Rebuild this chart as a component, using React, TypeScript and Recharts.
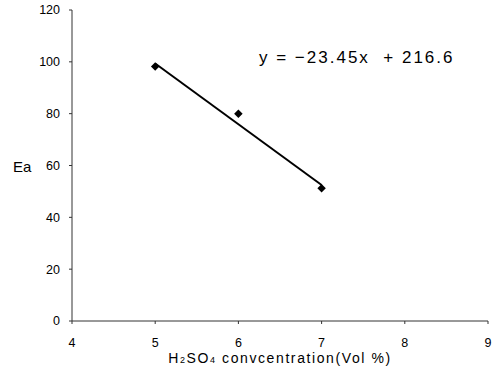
import { ScatterChart, Scatter, XAxis, YAxis } from "recharts";

// measured points
const concentration = [5, 6, 7];
const activationEnergy = [98.2, 80, 51.2];

// linear fit end points (y = -23.45x + 216.6)
const fitX = [5, 7];
const fitY = [99.35, 52.45];

const xTicks = [4, 5, 6, 7, 8, 9];
const yTicks = [0, 20, 40, 60, 80, 100, 120];

const points = concentration.map((x, i) => ({ x, y: activationEnergy[i] }));
const fit = fitX.map((x, i) => ({ x, y: fitY[i] }));

const font = "'Liberation Sans', Arial, sans-serif";

const XTitle = (props: any) => {
  const vb = props.viewBox;
  const cx = vb.x + vb.width / 2;
  const y = vb.y + vb.height - 7;
  return (
    <text x={cx} y={y} textAnchor="middle" fontSize={14} letterSpacing={1.6} fontFamily={font} fill="#000">
      H<tspan fontSize={9}>2</tspan>SO<tspan fontSize={9}>4</tspan> convcentration(Vol %)
    </text>
  );
};

const YTitle = (props: any) => {
  const vb = props.viewBox;
  return (
    <text x={13} y={vb.y + vb.height / 2 + 6} fontSize={15} fontFamily={font} fill="#000">
      Ea
    </text>
  );
};

const Dot = (props: any) => {
  const { cx, cy } = props;
  return <rect x={cx - 3} y={cy - 3} width={6} height={6} fill="#000" transform={`rotate(45 ${cx} ${cy})`} />;
};

export default function App() {
  return (
    <div style={{ position: "absolute", left: 0, top: 0, width: 498, height: 370, background: "#fff" }}>
      <ScatterChart width={498} height={370} margin={{ top: 10, right: 10, bottom: 0, left: 0 }}>
        <XAxis
          type="number"
          dataKey="x"
          domain={[4, 9]}
          ticks={xTicks}
          height={49}
          stroke="#333"
          tickSize={3}
          tickMargin={14}
          tick={{ fill: "#000", fontSize: 12.5, fontFamily: font }}
          label={<XTitle />}
        />
        <XAxis xAxisId="top" orientation="top" type="number" domain={[4, 9]} height={0} stroke="#999" tick={false} tickLine={false} />
        <YAxis
          type="number"
          dataKey="y"
          domain={[0, 120]}
          ticks={yTicks}
          width={72}
          stroke="#333"
          tickSize={3}
          tickMargin={9}
          tick={{ fill: "#000", fontSize: 12.5, fontFamily: font }}
          label={<YTitle />}
        />
        <YAxis yAxisId="right" orientation="right" type="number" domain={[0, 120]} width={0} stroke="#999" tick={false} tickLine={false} />
        <Scatter data={fit} line={{ stroke: "#000", strokeWidth: 2 }} shape={() => null} isAnimationActive={false} />
        <Scatter data={points} shape={<Dot />} fill="#000" isAnimationActive={false} />
      </ScatterChart>
      <svg width={498} height={370} style={{ position: "absolute", left: 0, top: 0, pointerEvents: "none" }}>
        <text x={259} y={63} fontSize={17} fontFamily={font} letterSpacing={2} fill="#000" style={{ whiteSpace: "pre" }}>
          {"y = \u221223.45x  + 216.6"}
        </text>
      </svg>
    </div>
  );
}
